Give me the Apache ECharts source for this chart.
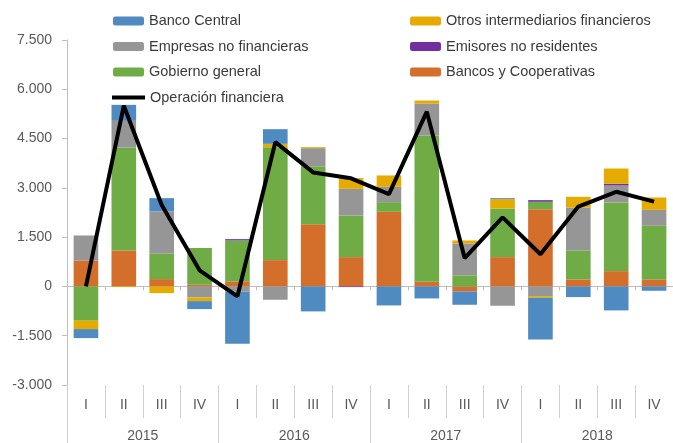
<!DOCTYPE html>
<html>
<head>
<meta charset="utf-8">
<script src="https://cdn.jsdelivr.net/npm/echarts@6/dist/echarts.min.js"></script>
<style>
  html, body { margin: 0; padding: 0; background: #fff; }
  #chart { width: 673px; height: 443px; }
</style>
</head>
<body>
<div id="chart"></div>
<script>
// datos trimestrales (millones)
var years = ['2015', '2016', '2017', '2018']
var quarters = ['I', 'II', 'III', 'IV']

var bancos = [791, 1095, 223, 51, 152, 801, 1896, 892, 2271, 142, -152, 892, 2352, 213, 466, 213]
var gobierno = [-1044, 3133, 771, 1115, 1247, 3438, 1765, 1268, 294, 4451, 335, 1481, 224, 882, 2089, 1633]
var empresas = [760, 812, 1288, -335, -152, -406, 547, 811, 467, 974, 973, -588, -294, 1308, 517, 486]
var emisores = [0, 0, 0, 0, 40, 0, 0, -20, 0, 0, 0, 0, 50, 0, 50, 0]
var otros = [-254, -20, -203, -111, 0, 101, 31, 325, 345, 91, 91, 284, -51, 325, 467, 375]
var bancoCentral = [-274, 486, 405, -244, -1592, 446, -760, 0, -578, -365, -406, 30, -1267, -324, -730, -132]
var operacion = [0, 5500, 2480, 490, -300, 4390, 3470, 3290, 2810, 5320, 860, 2100, 980, 2430, 2880, 2580]

var categories = []
years.forEach(function (y) {
  quarters.forEach(function (q) {
    categories.push(y + ' ' + q)
  })
})

var font = 'Liberation Sans, Arial, sans-serif'
var textColor = '#595959'
var axisColor = '#bfbfbf'

function fmt(v) {
  var s = String(Math.abs(v)).replace(/\B(?=(\d{3})+(?!\d))/g, '.')
  return (v < 0 ? '-' : '') + s
}

function barSeries(name, data, color) {
  return {
    name: name,
    type: 'bar',
    stack: 'total',
    barWidth: '65%',
    itemStyle: { color: color },
    data: data
  }
}

var legendText = { fontSize: 14.5, color: '#3a3a3a', lineHeight: 16, fontFamily: font }

var chart = echarts.init(document.getElementById('chart'))
chart.setOption({
  animation: false,
  textStyle: { fontFamily: font },
  legend: [
    {
      orient: 'vertical',
      left: 108,
      top: 8,
      itemWidth: 31,
      itemHeight: 9,
      itemGap: 9.5,
      textStyle: legendText,
      data: ['Banco Central', 'Empresas no financieras', 'Gobierno general']
    },
    {
      orient: 'vertical',
      left: 405,
      top: 8,
      itemWidth: 31,
      itemHeight: 9,
      itemGap: 9.5,
      textStyle: legendText,
      data: ['Otros intermediarios financieros', 'Emisores no residentes', 'Bancos y Cooperativas']
    },
    {
      left: 107,
      top: 84.5,
      itemWidth: 33,
      itemHeight: 4,
      textStyle: legendText,
      data: [{ name: 'Operación financiera', icon: 'rect' }]
    }
  ],
  grid: {
    left: 67,
    right: -6,
    top: 40,
    bottom: 58
  },
  xAxis: [
    {
      type: 'category',
      data: categories,
      axisLine: { onZero: true, lineStyle: { color: axisColor, width: 1 } },
      axisTick: { show: true, interval: 0, length: 4, lineStyle: { color: axisColor } },
      axisLabel: { show: false }
    },
    {
      type: 'category',
      data: categories,
      position: 'bottom',
      axisLine: { show: false, onZero: false },
      axisTick: { show: true, interval: 0, length: 33, lineStyle: { color: '#d0d0d0' } },
      axisLabel: {
        interval: 0,
        margin: 13,
        fontSize: 14,
        color: textColor,
        formatter: function (v) { return v.split(' ')[1] }
      }
    },
    {
      type: 'category',
      data: years,
      position: 'bottom',
      axisLine: { show: false, onZero: false },
      axisTick: { show: true, interval: 0, length: 58, lineStyle: { color: '#d0d0d0' } },
      axisLabel: { interval: 0, margin: 44, fontSize: 14, color: textColor }
    }
  ],
  yAxis: {
    type: 'value',
    min: -3000,
    max: 7500,
    interval: 1500,
    axisLine: { show: true, lineStyle: { color: axisColor } },
    axisTick: { show: true, length: 5, lineStyle: { color: axisColor } },
    splitLine: { show: false },
    axisLabel: { margin: 15, fontSize: 14, color: textColor, formatter: fmt }
  },
  series: [
    barSeries('Bancos y Cooperativas', bancos, '#d46e2b'),
    barSeries('Gobierno general', gobierno, '#6fac46'),
    barSeries('Empresas no financieras', empresas, '#969696'),
    barSeries('Emisores no residentes', emisores, '#7030a0'),
    barSeries('Otros intermediarios financieros', otros, '#e5ab00'),
    barSeries('Banco Central', bancoCentral, '#4f8bc1'),
    {
      name: 'Operación financiera',
      type: 'line',
      symbol: 'none',
      z: 10,
      lineStyle: { color: '#000', width: 4 },
      itemStyle: { color: '#000' },
      data: operacion
    }
  ]
})
</script>
</body>
</html>
